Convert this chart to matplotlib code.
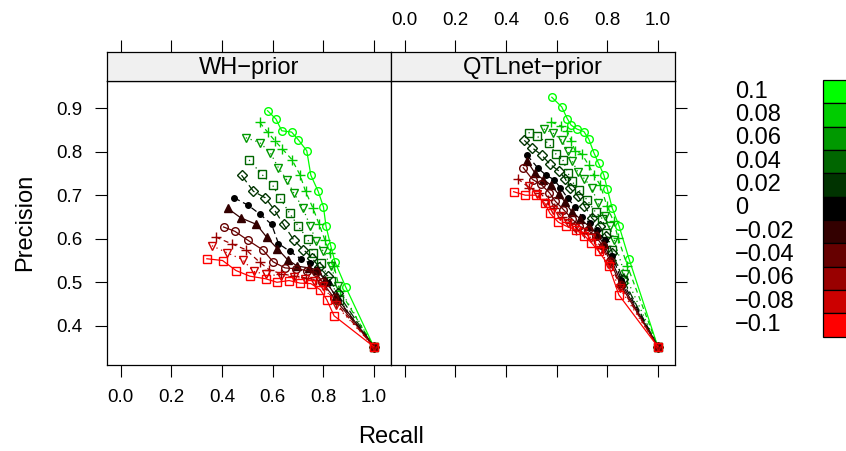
import matplotlib
matplotlib.use("Agg")
import matplotlib.pyplot as plt
import matplotlib.patches as patches

plt.rcParams['font.family'] = ['Liberation Sans', 'DejaVu Sans']
plt.rcParams['axes.unicode_minus'] = True

# effect levels (legend), from top to bottom
levels = [0.1, 0.08, 0.06, 0.04, 0.02, 0, -0.02, -0.04, -0.06, -0.08, -0.1]
level_labels = ["0.1", "0.08", "0.06", "0.04", "0.02", "0",
                "\u22120.02", "\u22120.04", "\u22120.06", "\u22120.08", "\u22120.1"]
panel_names = ["WH\u2212prior", "QTLnet\u2212prior"]

# WH-prior panel: recall / precision per level
wh_recall = [
    [0.580, 0.613, 0.636, 0.675, 0.702, 0.735, 0.751, 0.780, 0.801, 0.811, 0.830, 0.847, 0.889, 1.0],
    [0.549, 0.580, 0.609, 0.639, 0.676, 0.708, 0.730, 0.759, 0.784, 0.806, 0.825, 0.843, 0.867, 1.0],
    [0.494, 0.549, 0.590, 0.623, 0.655, 0.683, 0.719, 0.748, 0.772, 0.801, 0.830, 0.859, 1.0],
    [0.507, 0.557, 0.600, 0.628, 0.668, 0.701, 0.738, 0.760, 0.791, 0.830, 0.864, 1.0],
    [0.477, 0.524, 0.571, 0.606, 0.643, 0.685, 0.722, 0.755, 0.784, 0.817, 0.857, 1.0],
    [0.448, 0.503, 0.551, 0.596, 0.623, 0.668, 0.711, 0.748, 0.777, 0.817, 0.857, 1.0],
    [0.422, 0.474, 0.536, 0.576, 0.619, 0.659, 0.698, 0.744, 0.775, 0.806, 0.850, 1.0],
    [0.406, 0.451, 0.501, 0.562, 0.602, 0.649, 0.694, 0.735, 0.771, 0.797, 0.843, 1.0],
    [0.375, 0.439, 0.494, 0.549, 0.586, 0.632, 0.685, 0.731, 0.771, 0.804, 0.850, 1.0],
    [0.360, 0.419, 0.481, 0.525, 0.573, 0.632, 0.683, 0.727, 0.764, 0.801, 0.850, 1.0],
    [0.340, 0.402, 0.455, 0.510, 0.573, 0.617, 0.665, 0.709, 0.751, 0.788, 0.814, 0.843, 1.0],
]
wh_precision = [
    [0.894, 0.875, 0.848, 0.845, 0.827, 0.802, 0.746, 0.709, 0.673, 0.629, 0.583, 0.546, 0.489, 0.352],
    [0.867, 0.845, 0.825, 0.806, 0.782, 0.747, 0.709, 0.671, 0.633, 0.598, 0.568, 0.537, 0.479, 0.352],
    [0.832, 0.821, 0.798, 0.763, 0.736, 0.706, 0.671, 0.630, 0.594, 0.571, 0.537, 0.491, 0.352],
    [0.781, 0.748, 0.723, 0.694, 0.658, 0.629, 0.600, 0.568, 0.544, 0.502, 0.460, 0.352],
    [0.746, 0.709, 0.694, 0.667, 0.633, 0.596, 0.575, 0.556, 0.535, 0.514, 0.475, 0.352],
    [0.694, 0.677, 0.656, 0.633, 0.589, 0.571, 0.554, 0.544, 0.529, 0.498, 0.460, 0.352],
    [0.670, 0.648, 0.633, 0.604, 0.577, 0.552, 0.537, 0.533, 0.529, 0.506, 0.468, 0.352],
    [0.627, 0.617, 0.597, 0.574, 0.547, 0.533, 0.531, 0.527, 0.523, 0.500, 0.464, 0.352],
    [0.604, 0.588, 0.575, 0.546, 0.529, 0.520, 0.514, 0.510, 0.506, 0.491, 0.452, 0.352],
    [0.584, 0.568, 0.552, 0.525, 0.518, 0.515, 0.512, 0.508, 0.504, 0.491, 0.448, 0.352],
    [0.554, 0.550, 0.527, 0.514, 0.508, 0.500, 0.504, 0.498, 0.497, 0.483, 0.460, 0.423, 0.352],
]

# QTLnet-prior panel
qtl_recall = [
    [0.581, 0.620, 0.642, 0.657, 0.680, 0.708, 0.727, 0.747, 0.766, 0.787, 0.800, 0.820, 0.847, 0.886, 1.0],
    [0.578, 0.618, 0.642, 0.657, 0.673, 0.700, 0.727, 0.747, 0.773, 0.799, 0.825, 0.843, 0.880, 1.0],
    [0.549, 0.587, 0.620, 0.644, 0.661, 0.684, 0.710, 0.739, 0.763, 0.790, 0.810, 0.827, 0.869, 1.0],
    [0.489, 0.523, 0.569, 0.598, 0.624, 0.644, 0.660, 0.687, 0.719, 0.754, 0.781, 0.796, 0.820, 0.862, 1.0],
    [0.472, 0.503, 0.541, 0.574, 0.608, 0.634, 0.651, 0.684, 0.710, 0.739, 0.770, 0.796, 0.820, 0.862, 1.0],
    [0.483, 0.525, 0.558, 0.589, 0.615, 0.644, 0.673, 0.701, 0.730, 0.759, 0.790, 0.820, 0.856, 1.0],
    [0.483, 0.515, 0.548, 0.578, 0.608, 0.634, 0.661, 0.693, 0.727, 0.761, 0.787, 0.816, 0.856, 1.0],
    [0.468, 0.505, 0.538, 0.571, 0.595, 0.627, 0.660, 0.690, 0.723, 0.754, 0.783, 0.812, 0.853, 1.0],
    [0.446, 0.492, 0.532, 0.565, 0.591, 0.620, 0.651, 0.677, 0.710, 0.746, 0.781, 0.810, 0.852, 1.0],
    [0.489, 0.523, 0.556, 0.585, 0.614, 0.644, 0.671, 0.704, 0.737, 0.773, 0.803, 0.849, 1.0],
    [0.430, 0.476, 0.519, 0.554, 0.574, 0.607, 0.638, 0.675, 0.710, 0.737, 0.767, 0.806, 0.846, 1.0],
]
qtl_precision = [
    [0.925, 0.903, 0.876, 0.861, 0.852, 0.846, 0.829, 0.798, 0.773, 0.746, 0.715, 0.670, 0.629, 0.554, 0.352],
    [0.868, 0.859, 0.848, 0.825, 0.802, 0.794, 0.769, 0.746, 0.723, 0.675, 0.640, 0.602, 0.537, 0.352],
    [0.852, 0.842, 0.826, 0.802, 0.779, 0.753, 0.738, 0.716, 0.683, 0.653, 0.629, 0.598, 0.518, 0.352],
    [0.844, 0.835, 0.819, 0.794, 0.782, 0.752, 0.732, 0.713, 0.690, 0.661, 0.646, 0.614, 0.575, 0.506, 0.352],
    [0.826, 0.809, 0.792, 0.771, 0.756, 0.738, 0.717, 0.698, 0.676, 0.648, 0.629, 0.606, 0.568, 0.508, 0.352],
    [0.792, 0.763, 0.746, 0.736, 0.717, 0.693, 0.673, 0.650, 0.637, 0.620, 0.598, 0.560, 0.506, 0.352],
    [0.779, 0.750, 0.736, 0.723, 0.702, 0.684, 0.661, 0.646, 0.629, 0.610, 0.587, 0.552, 0.498, 0.352],
    [0.763, 0.736, 0.725, 0.706, 0.686, 0.667, 0.646, 0.629, 0.620, 0.606, 0.583, 0.548, 0.494, 0.352],
    [0.738, 0.717, 0.706, 0.688, 0.671, 0.650, 0.637, 0.621, 0.614, 0.600, 0.579, 0.544, 0.491, 0.352],
    [0.721, 0.702, 0.683, 0.667, 0.652, 0.637, 0.625, 0.615, 0.602, 0.575, 0.541, 0.487, 0.352],
    [0.708, 0.700, 0.700, 0.681, 0.658, 0.638, 0.629, 0.621, 0.607, 0.591, 0.571, 0.538, 0.471, 0.352],
]

x_ticks = [0.0, 0.2, 0.4, 0.6, 0.8, 1.0]
x_ticklabels = ["0.0", "0.2", "0.4", "0.6", "0.8", "1.0"]
y_ticks = [0.4, 0.5, 0.6, 0.7, 0.8, 0.9]
y_ticklabels = ["0.4", "0.5", "0.6", "0.7", "0.8", "0.9"]

# styling per level
colors = ['#00FF00', '#00CC00', '#009900', '#006600', '#003300', '#000000',
          '#330000', '#660000', '#990000', '#CC0000', '#FF0000']
markers = ['o', '+', 'v', 's', 'D', 'o', '^', 'o', '+', 'v', 's']
msizes = [5.5, 7.5, 6.0, 5.5, 5.0, 4.0, 5.5, 5.5, 7.5, 6.0, 5.5]
filled = [False, False, False, False, False, True, True, False, False, False, False]
linestyles = ['-', (0, (4, 3)), (0, (1, 3)), (0, (1, 3)), (0, (7, 3)), (0, (5, 3)),
              '-', '-', (0, (4, 3)), (0, (1, 3)), '-']

W, H = 846, 451
fig = plt.figure(figsize=(W / 100, H / 100), dpi=100)
fig.patch.set_facecolor('white')

tick_fs = 13.5
big_fs = 17
panel_x = [106.7, 390.7]
panel_w = 284.3
panel_top, panel_bot = 80.7, 365.0
strip_top = 51.7
xlim = (-0.056, 1.068)
ylim = (0.310, 0.963)

data = [(wh_recall, wh_precision), (qtl_recall, qtl_precision)]

for p in range(2):
    ax = fig.add_axes([panel_x[p] / W, 1 - panel_bot / H, panel_w / W, (panel_bot - panel_top) / H])
    strip = fig.add_axes([panel_x[p] / W, 1 - panel_top / H, panel_w / W, (panel_top - strip_top) / H])

    rec, prec = data[p]
    for i in range(len(levels)):
        ax.plot(rec[i], prec[i], color=colors[i], linestyle=linestyles[i], linewidth=0.9,
                marker=markers[i], markersize=msizes[i],
                markeredgewidth=1.0, markeredgecolor=colors[i],
                markerfacecolor=colors[i] if filled[i] else 'none')

    ax.set_xlim(xlim)
    ax.set_ylim(ylim)
    ax.set_xticks(x_ticks)
    ax.set_yticks(y_ticks)
    ax.tick_params(direction='out', length=8.4, width=0.8, pad=9, labelsize=tick_fs,
                   top=False, right=(p == 1), left=(p == 0), bottom=True,
                   labelbottom=(p == 0), labelleft=(p == 0))
    ax.set_xticklabels(x_ticklabels)
    ax.set_yticklabels(y_ticklabels)
    for s in ax.spines.values():
        s.set_linewidth(0.9)

    strip.set_facecolor('#F0F0F0')
    strip.set_xlim(xlim)
    strip.set_ylim(0, 1)
    strip.set_yticks([])
    strip.set_xticks(x_ticks)
    strip.set_xticklabels(x_ticklabels)
    strip.tick_params(axis='x', direction='out', length=8.4, width=0.8, pad=8,
                      labelsize=tick_fs, top=True, bottom=False,
                      labeltop=(p == 1), labelbottom=False)
    for s in strip.spines.values():
        s.set_linewidth(0.9)
    strip.text(0.5, 0.45, panel_names[p], transform=strip.transAxes,
               ha='center', va='center', fontsize=big_fs)

fig.text(390.9 / W, 1 - 437 / H, "Recall", ha='center', va='center', fontsize=big_fs)
fig.text(25 / W, 1 - 222 / H, "Precision", ha='center', va='center',
         rotation=90, fontsize=big_fs)

# colour key on the right
key_top, key_bot = 80.0, 336.7
row_h = (key_bot - key_top) / len(levels)
key = fig.add_axes([823.3 / W, 1 - key_bot / H, 40 / W, (key_bot - key_top) / H])
key.set_xlim(0, 1)
key.set_ylim(0, len(levels))
key.axis('off')
for i in range(len(levels)):
    key.add_patch(patches.Rectangle((0, len(levels) - 1 - i), 1, 1, facecolor=colors[i],
                                    edgecolor='black', linewidth=0.9, clip_on=False))
    yc = key_top + row_h * (i + 0.5)
    fig.text(735 / W, 1 - yc / H, level_labels[i], ha='left', va='center', fontsize=big_fs)

fig.savefig('out.png', dpi=100)
